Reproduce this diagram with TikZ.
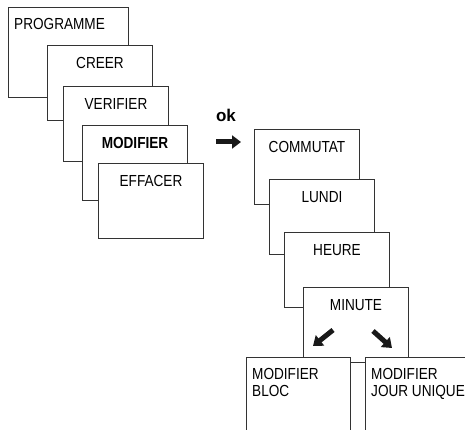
\documentclass[tikz,border=0pt]{standalone}
\usepackage{fontspec}
\setmainfont{Liberation Sans}[FakeStretch=0.85]
\newfontfamily\okfont{Liberation Sans}
\usepackage{tikz}
\usetikzlibrary{arrows.meta}
\tikzset{
	head/.style={anchor=north,inner sep=0pt,yshift=-12pt},
	lhead/.style={anchor=north west,inner sep=0pt,xshift=6pt,yshift=-11pt,align=left},
	menu/.style={draw=black!80,line width=1pt,fill=white,anchor=north west,minimum width=105pt,minimum height=75pt,label={[head]north:#1}},
	lmenu/.style={draw=black!80,line width=1pt,fill=white,anchor=north west,minimum width=105pt,minimum height=75pt,label={[lhead]north west:#1}},
	fat/.style={line width=5pt,black!90,-{Triangle[length=9pt,width=13pt]}}
}
\begin{document}
\begin{tikzpicture}[x=1pt,y=-1pt,font=\fontsize{16}{17}\selectfont]
	\useasboundingbox (0,0) rectangle (465,430);
	\clip (0,0) rectangle (465,430);

	% menu PROGRAMME
	\node [lmenu=PROGRAMME,minimum width=120pt,minimum height=90pt] (programme) at (8,7) {};
	\node [menu=CREER] (creer) at (47,45) {};
	\node [menu=VERIFIER] (verifier) at (63,86) {};
	\node [menu=\textbf{MODIFIER}] (modifier) at (82,125) {};
	\node [menu=EFFACER] (effacer) at (98,163) {};

	% ok
	\node [font=\okfont\fontsize{17}{17}\selectfont\bfseries] (ok) at (226,115) {ok};
	\coordinate (oktail) at (216,142);
	\coordinate (okhead) at (241,142);
	\draw [fat] (oktail) -- (okhead);

	% sous-menu MODIFIER
	\node [menu=COMMUTAT] (commutat) at (254,129) {};
	\node [menu=LUNDI] (lundi) at (269,179) {};
	\node [menu=HEURE] (heure) at (284,232) {};
	\node [menu=MINUTE] (minute) at (303,287) {};

	\coordinate (bloctail) at (333,330);
	\coordinate (blochead) at (313,346);
	\coordinate (uniquetail) at (373,331);
	\coordinate (uniquehead) at (392,348);
	\draw [fat] (bloctail) -- (blochead);
	\draw [fat] (uniquetail) -- (uniquehead);

	\node [lmenu={MODIFIER\\BLOC},minimum width=104pt,minimum height=100pt] (bloc) at (246,357) {};
	\node [lmenu={MODIFIER\\JOUR UNIQUE},minimum width=110pt,minimum height=100pt] (unique) at (365,357) {};
\end{tikzpicture}
\end{document}
